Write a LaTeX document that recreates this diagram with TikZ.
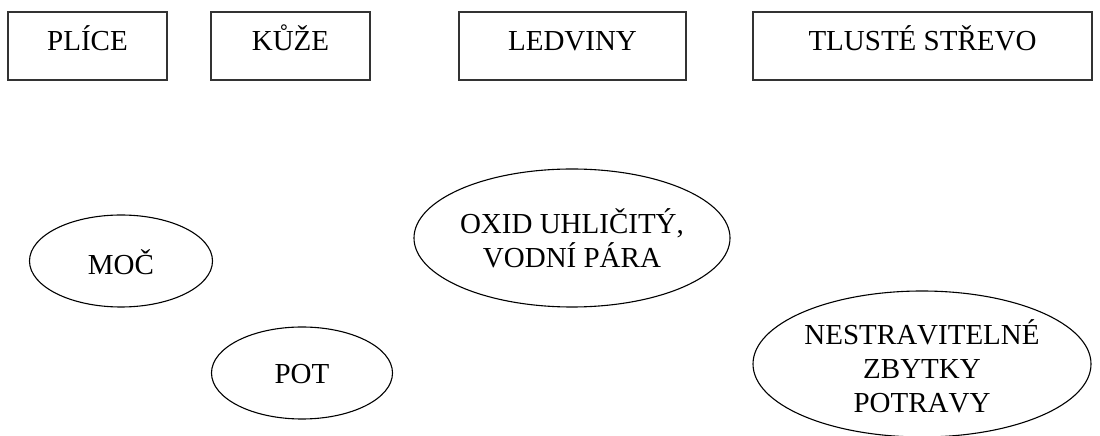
\documentclass[tikz,border=0pt]{standalone}
\usepackage{fontspec}
\setmainfont{Liberation Serif}[Kerning=Off]
\usepackage{tikz}
\usetikzlibrary{positioning}

\begin{document}
\begin{tikzpicture}[x=1pt,y=1pt,
  organ/.style={draw=black!80,line width=1.6pt,rectangle,minimum height=68pt,inner sep=0pt,text height=22pt,text depth=12pt,font=\fontsize{29}{34}\selectfont},
  product/.style={inner sep=0pt,align=center,font=\fontsize{29}{34}\selectfont},
  rim/.style={draw=black,line width=1.1pt}]

\useasboundingbox (0,0) rectangle (1100,436);

%ORGANS
\node[organ,minimum width=159pt](PL-label) at (87.5,390){PLÍCE};
\node[organ,minimum width=159pt](KU-label) at (290.5,390){KŮŽE};
\node[organ,minimum width=227pt](LE-label) at (572.5,390){LEDVINY};
\node[organ,minimum width=339pt](TS-label) at (922.5,390){TLUSTÉ STŘEVO};

%PRODUCTS
\node[product](MO-label) at (121,174){MOČ};
\node[product](PO-label) at (302,62){POT};
\node[product](OX-label) at (572,198){OXID UHLIČITÝ,\\VODNÍ PÁRA};
\node[product](NZ-label) at (922,70){NESTRAVITELNÉ\\ZBYTKY\\POTRAVY};

%RIMS
\draw[rim] (121,175) ellipse (91.5 and 46);
\draw[rim] (302,63) ellipse (90.5 and 46);
\draw[rim] (572,198) ellipse (158 and 69);
\draw[rim] (922,72) ellipse (169 and 73);

\end{tikzpicture}
\end{document}
